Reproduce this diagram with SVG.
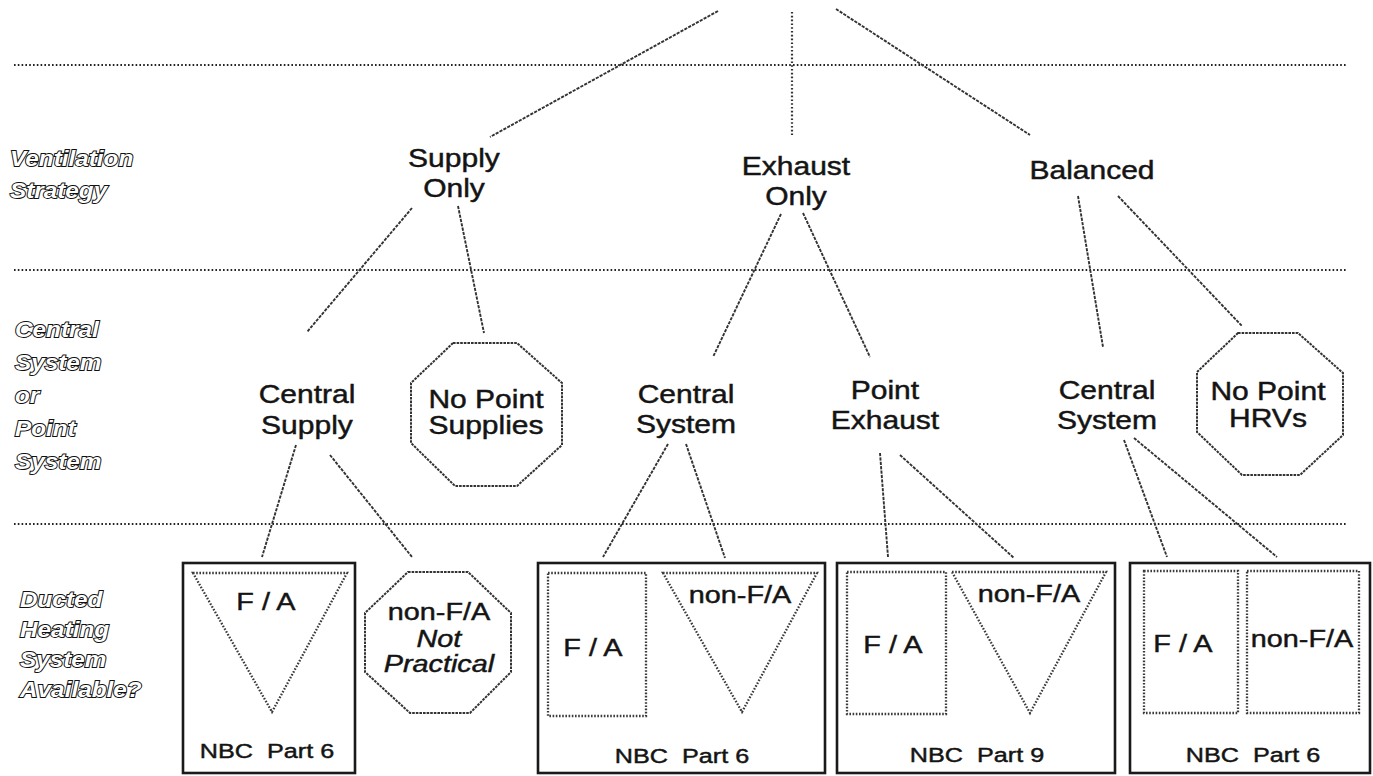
<svg xmlns="http://www.w3.org/2000/svg" width="1373" height="776" viewBox="0 0 1373 776">
  <style>
    .t { font-family: "Liberation Sans", Arial, sans-serif; fill: #141414; stroke: #141414; stroke-width: 0.45; text-anchor: middle; transform-box: fill-box; transform-origin: center; transform: scaleX(1.2); }
    .lv { font-size: 25px; }
    .bx { font-size: 24px; }
    .nbc { font-size: 21px; white-space: pre; }
    .it { font-style: italic; }
    .hdr { font-family: "Liberation Sans", Arial, sans-serif; font-size: 22.5px; font-weight: bold; font-style: italic; fill: #fff; stroke: #111; stroke-width: 1.9; paint-order: stroke; transform-box: fill-box; transform-origin: left center; transform: scaleX(1.08); }
    .hdr-in { fill: #fff; stroke: none; }
    .divider { stroke: #222; stroke-width: 2.2; stroke-dasharray: 1.6 2.2; fill: none; }
    .conn { stroke: #333; stroke-width: 1.9; stroke-dasharray: 3.2 1.2; fill: none; }
    .frame { fill: #fff; stroke: #1a1a1a; stroke-width: 2.6; }
    .dot { fill: #fff; stroke: #3a3a3a; stroke-width: 2.3; stroke-dasharray: 1.6 1.6; }
    .oct { fill: #fff; stroke: #333; stroke-width: 2; stroke-dasharray: 2.6 1; }
  </style>

  <rect width="1373" height="776" fill="#fff"/>

  <!-- level dividers -->
  <g id="dividers">
    <line class="divider" x1="14" y1="65" x2="1346" y2="65"/>
    <line class="divider" x1="14" y1="270" x2="1346" y2="270"/>
    <line class="divider" x1="14" y1="524" x2="1346" y2="524"/>
  </g>

  <!-- row headings: outlined italic lettering -->
  <g id="row-headings">
    <text class="hdr" x="10" y="166">Ventilation</text>
    <text class="hdr" x="10" y="198">Strategy</text>
    <text class="hdr" x="15" y="337">Central</text>
    <text class="hdr" x="15" y="370">System</text>
    <text class="hdr" x="15" y="403">or</text>
    <text class="hdr" x="15" y="436">Point</text>
    <text class="hdr" x="15" y="469">System</text>
    <text class="hdr" x="20" y="607">Ducted</text>
    <text class="hdr" x="20" y="637">Heating</text>
    <text class="hdr" x="20" y="667">System</text>
    <text class="hdr" x="20" y="697">Available?</text>
  </g>

  <!-- connectors -->
  <g id="connectors">
    <line class="conn" x1="718" y1="11" x2="490" y2="137"/>
    <line class="conn" x1="792" y1="12" x2="792" y2="135" style="stroke-dasharray:1.6 2.2;stroke-width:2.2"/>
    <line class="conn" x1="836" y1="9" x2="1030" y2="135"/>

    <line class="conn" x1="412" y1="208" x2="307" y2="332"/>
    <line class="conn" x1="458" y1="206" x2="484" y2="333"/>
    <line class="conn" x1="781" y1="214" x2="713" y2="357"/>
    <line class="conn" x1="803" y1="213" x2="870" y2="357"/>
    <line class="conn" x1="1078" y1="196" x2="1103" y2="347"/>
    <line class="conn" x1="1118" y1="196" x2="1242" y2="326"/>

    <line class="conn" x1="296" y1="445" x2="262" y2="557"/>
    <line class="conn" x1="330" y1="455" x2="412" y2="557"/>
    <line class="conn" x1="668" y1="444" x2="603" y2="557"/>
    <line class="conn" x1="686" y1="444" x2="725" y2="558"/>
    <line class="conn" x1="880" y1="453" x2="888" y2="557"/>
    <line class="conn" x1="900" y1="455" x2="1014" y2="558"/>
    <line class="conn" x1="1124" y1="440" x2="1167" y2="557"/>
    <line class="conn" x1="1134" y1="438" x2="1277" y2="557"/>
  </g>

  <!-- ventilation strategies -->
  <g id="supply-only">
    <text class="t lv" x="454" y="167">Supply</text>
    <text class="t lv" x="454" y="197">Only</text>
  </g>
  <g id="exhaust-only">
    <text class="t lv" x="796" y="175">Exhaust</text>
    <text class="t lv" x="796" y="205">Only</text>
  </g>
  <g id="balanced">
    <text class="t lv" x="1092" y="179">Balanced</text>
  </g>

  <!-- central / point systems -->
  <g id="central-supply">
    <text class="t lv" x="307" y="403">Central</text>
    <text class="t lv" x="307" y="434">Supply</text>
  </g>
  <g id="no-point-supplies">
    <polygon class="oct" points="453,343 517,343 562,383 562,445 517,486 455,486 411,443 411,383"/>
    <text class="t lv" x="486" y="408">No Point</text>
    <text class="t lv" x="486" y="434">Supplies</text>
  </g>
  <g id="exhaust-central-system">
    <text class="t lv" x="686" y="403">Central</text>
    <text class="t lv" x="686" y="433">System</text>
  </g>
  <g id="point-exhaust">
    <text class="t lv" x="885" y="399">Point</text>
    <text class="t lv" x="885" y="429">Exhaust</text>
  </g>
  <g id="balanced-central-system">
    <text class="t lv" x="1107" y="399">Central</text>
    <text class="t lv" x="1107" y="429">System</text>
  </g>
  <g id="no-point-hrvs">
    <polygon class="oct" points="1238,333 1298,333 1343,373 1343,435 1300,475 1242,475 1197,432 1197,372"/>
    <text class="t lv" x="1268" y="400">No Point</text>
    <text class="t lv" x="1268" y="427">HRVs</text>
  </g>

  <!-- ducted heating outcomes -->
  <g id="central-supply-nbc6">
    <rect class="frame" x="183" y="563" width="172" height="210"/>
    <polygon class="dot" points="193,573 347,573 272,712"/>
    <text class="t bx" x="266" y="610">F / A</text>
    <text class="t nbc" x="267" y="758">NBC  Part 6</text>
  </g>
  <g id="supply-non-fa">
    <polygon class="oct" points="408,572 468,572 511,613 511,672 470,713 410,713 365,672 365,613"/>
    <text class="t bx" x="439" y="620">non-F/A</text>
    <text class="t bx it" x="439" y="647">Not</text>
    <text class="t bx it" x="439" y="672">Practical</text>
  </g>
  <g id="exhaust-central-nbc6">
    <rect class="frame" x="538" y="563" width="287" height="210"/>
    <rect class="dot" x="548" y="573" width="98" height="143"/>
    <text class="t bx" x="593" y="656">F / A</text>
    <polygon class="dot" points="663,573 817,573 742,712"/>
    <text class="t bx" x="740" y="603">non-F/A</text>
    <text class="t nbc" x="682" y="763">NBC  Part 6</text>
  </g>
  <g id="point-exhaust-nbc9">
    <rect class="frame" x="837" y="563" width="278" height="210"/>
    <rect class="dot" x="847" y="572" width="99" height="142"/>
    <text class="t bx" x="893" y="653">F / A</text>
    <polygon class="dot" points="952,572 1106,572 1030,713"/>
    <text class="t bx" x="1029" y="602">non-F/A</text>
    <text class="t nbc" x="977" y="762">NBC  Part 9</text>
  </g>
  <g id="balanced-central-nbc6">
    <rect class="frame" x="1130" y="563" width="240" height="210"/>
    <rect class="dot" x="1144" y="571" width="94" height="142"/>
    <text class="t bx" x="1183" y="652">F / A</text>
    <rect class="dot" x="1247" y="571" width="112" height="142"/>
    <text class="t bx" x="1302" y="647">non-F/A</text>
    <text class="t nbc" x="1253" y="762">NBC  Part 6</text>
  </g>
</svg>
